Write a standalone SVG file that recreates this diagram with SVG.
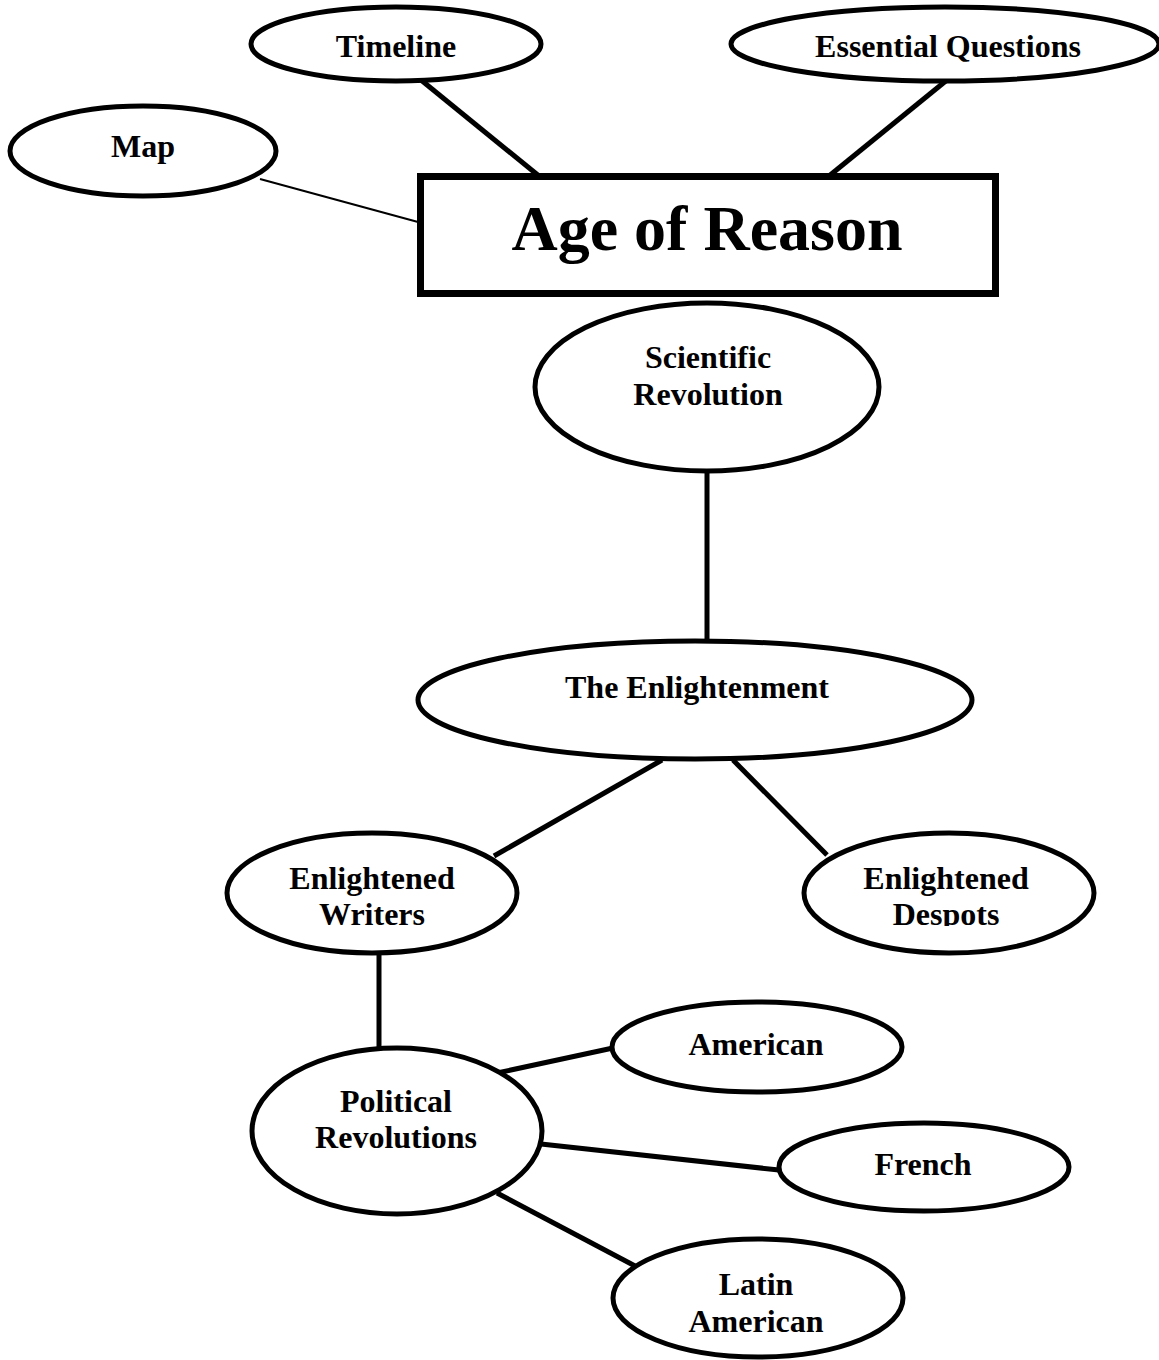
<svg xmlns="http://www.w3.org/2000/svg" width="1159" height="1360" viewBox="0 0 1159 1360">
<style>
.n{fill:#fff;stroke:#000;stroke-width:5}
.t{font-family:"Liberation Serif","Times New Roman",serif;font-weight:bold;font-size:32px;fill:#000;text-anchor:middle}
.c line{stroke:#000;stroke-width:5}
</style>
<defs>
<clipPath id="clipW"><rect x="220" y="840" width="310" height="86"/></clipPath>
<clipPath id="clipD"><rect x="800" y="840" width="300" height="86"/></clipPath>
</defs>
<rect width="1159" height="1360" fill="#fff"/>
<g class="c" id="connectors">
<line x1="421" y1="80" x2="539" y2="176"/>
<line x1="947" y1="80" x2="829" y2="176"/>
<line x1="260" y1="179" x2="418" y2="222" style="stroke-width:2"/>
<line x1="707" y1="470" x2="707" y2="642"/>
<line x1="662" y1="760" x2="494" y2="856"/>
<line x1="733" y1="760" x2="827" y2="855"/>
<line x1="379" y1="954" x2="379" y2="1049"/>
<line x1="497" y1="1073" x2="613" y2="1048"/>
<line x1="541" y1="1144" x2="779" y2="1170"/>
<line x1="497" y1="1193" x2="637" y2="1267"/>
</g>
<g id="timeline"><ellipse class="n" cx="396" cy="44" rx="145" ry="37"/><text class="t" x="396" y="57">Timeline</text></g>
<g id="essential"><ellipse class="n" cx="945" cy="44" rx="214" ry="37"/><text class="t" x="948" y="57">Essential Questions</text></g>
<g id="map"><ellipse class="n" cx="143" cy="151" rx="133" ry="45"/><text class="t" x="143" y="157">Map</text></g>
<g id="age"><rect x="420.5" y="176.5" width="575" height="117" fill="#fff" stroke="#000" stroke-width="7"/><text class="t" x="707" y="250" style="font-size:64px">Age of Reason</text></g>
<g id="scientific"><ellipse class="n" cx="707" cy="387" rx="172" ry="84"/><text class="t" x="708" y="368">Scientific</text><text class="t" x="708" y="405">Revolution</text></g>
<g id="enlightenment"><ellipse class="n" cx="695" cy="700" rx="277" ry="59"/><text class="t" x="697" y="698">The Enlightenment</text></g>
<g id="writers"><ellipse class="n" cx="372" cy="893" rx="145" ry="60"/><g clip-path="url(#clipW)"><text class="t" x="372" y="889">Enlightened</text><text class="t" x="372" y="925">Writers</text></g></g>
<g id="despots"><ellipse class="n" cx="949" cy="893" rx="145" ry="60"/><g clip-path="url(#clipD)"><text class="t" x="946" y="889">Enlightened</text><text class="t" x="946" y="925">Despots</text></g></g>
<g id="political"><ellipse class="n" cx="397" cy="1131" rx="145" ry="83"/><text class="t" x="396" y="1112">Political</text><text class="t" x="396" y="1148">Revolutions</text></g>
<g id="american"><ellipse class="n" cx="757" cy="1047" rx="145" ry="45"/><text class="t" x="756" y="1055">American</text></g>
<g id="french"><ellipse class="n" cx="924" cy="1167" rx="145" ry="44"/><text class="t" x="923" y="1175">French</text></g>
<g id="latin"><ellipse class="n" cx="758" cy="1298" rx="145" ry="59"/><text class="t" x="756" y="1295">Latin</text><text class="t" x="756" y="1332">American</text></g>
</svg>
